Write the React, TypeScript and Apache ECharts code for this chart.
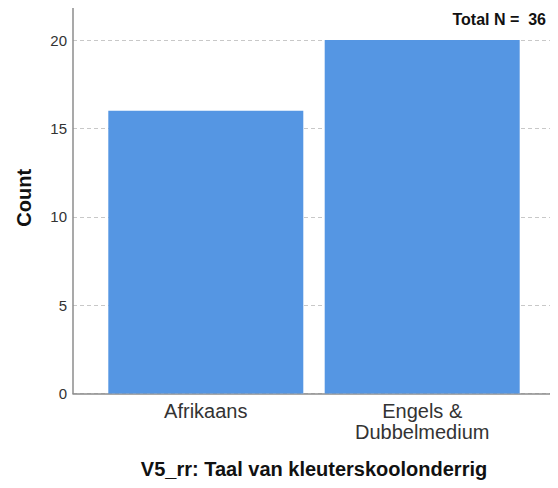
import React, { useEffect, useRef } from "react";
import * as echarts from "echarts";

const categories = ["Afrikaans", "Engels &\nDubbelmedium"];
const counts = [16, 20];
const yTicks = [0, 5, 10, 15, 20];
const totalLabel = "Total N =  36";
const xTitle = "V5_rr: Taal van kleuterskoolonderrig";
const yTitle = "Count";

export default function App() {
  const ref = useRef<HTMLDivElement>(null);
  useEffect(() => {
    if (!ref.current) return;
    const chart = echarts.init(ref.current, undefined, { renderer: "svg" });
    const yMax = 22.15;
    const font = "'Liberation Sans', Arial, sans-serif";
    chart.setOption({
      animation: false,
      backgroundColor: "#ffffff",
      textStyle: { fontFamily: font },
      grid: [
        { left: 73, right: 2, top: 2, bottom: 94.5 },
        { left: 97.6, width: 432.8, top: 2, bottom: 94.5 },
      ],
      xAxis: [
        {
          gridIndex: 0,
          type: "value",
          min: 0,
          max: 1,
          axisLine: { show: true, onZero: false, lineStyle: { color: "#8c8c8c", width: 1.5 } },
          axisTick: { show: false },
          axisLabel: { show: false },
          splitLine: { show: false },
        },
        {
          gridIndex: 1,
          type: "category",
          data: categories,
          axisLine: { show: false },
          axisTick: { show: false },
          axisLabel: {
            color: "#333333",
            fontSize: 20,
            lineHeight: 21,
            margin: 7,
            fontFamily: font,
          },
          name: xTitle,
          nameLocation: "middle",
          nameGap: 63,
          nameTextStyle: { fontSize: 20, fontWeight: "bold", color: "#111111", fontFamily: font, lineHeight: 24 },
        },
      ],
      yAxis: [
        {
          gridIndex: 0,
          type: "value",
          min: 0,
          max: yMax,
          interval: 5,
          axisLine: { show: true, lineStyle: { color: "#8c8c8c", width: 1.5 } },
          axisTick: { show: false },
          axisLabel: {
            color: "#333333",
            fontSize: 15,
            margin: 6,
            fontFamily: font,
            formatter: (v: number) => (yTicks.includes(v) ? String(v) : ""),
          },
          splitLine: { show: true, lineStyle: { color: "#c8c8c8", type: [4, 3], width: 1 } },
          name: yTitle,
          nameLocation: "middle",
          nameGap: 39,
          nameTextStyle: { fontSize: 20, fontWeight: "bold", color: "#111111", fontFamily: font },
        },
        {
          gridIndex: 1,
          type: "value",
          min: 0,
          max: yMax,
          show: false,
        },
      ],
      series: [
        {
          type: "bar",
          xAxisIndex: 1,
          yAxisIndex: 1,
          data: counts,
          barWidth: 195,
          itemStyle: { color: "#5596e3" },
        },
      ],
      graphic: [
        {
          type: "text",
          right: 12,
          top: 11,
          style: {
            text: totalLabel,
            fontSize: 16,
            fontWeight: "bold",
            fill: "#111111",
            fontFamily: font,
          },
        },
      ],
    });
    return () => chart.dispose();
  }, []);
  return <div ref={ref} style={{ width: 558, height: 488, margin: -8 }} />;
}
